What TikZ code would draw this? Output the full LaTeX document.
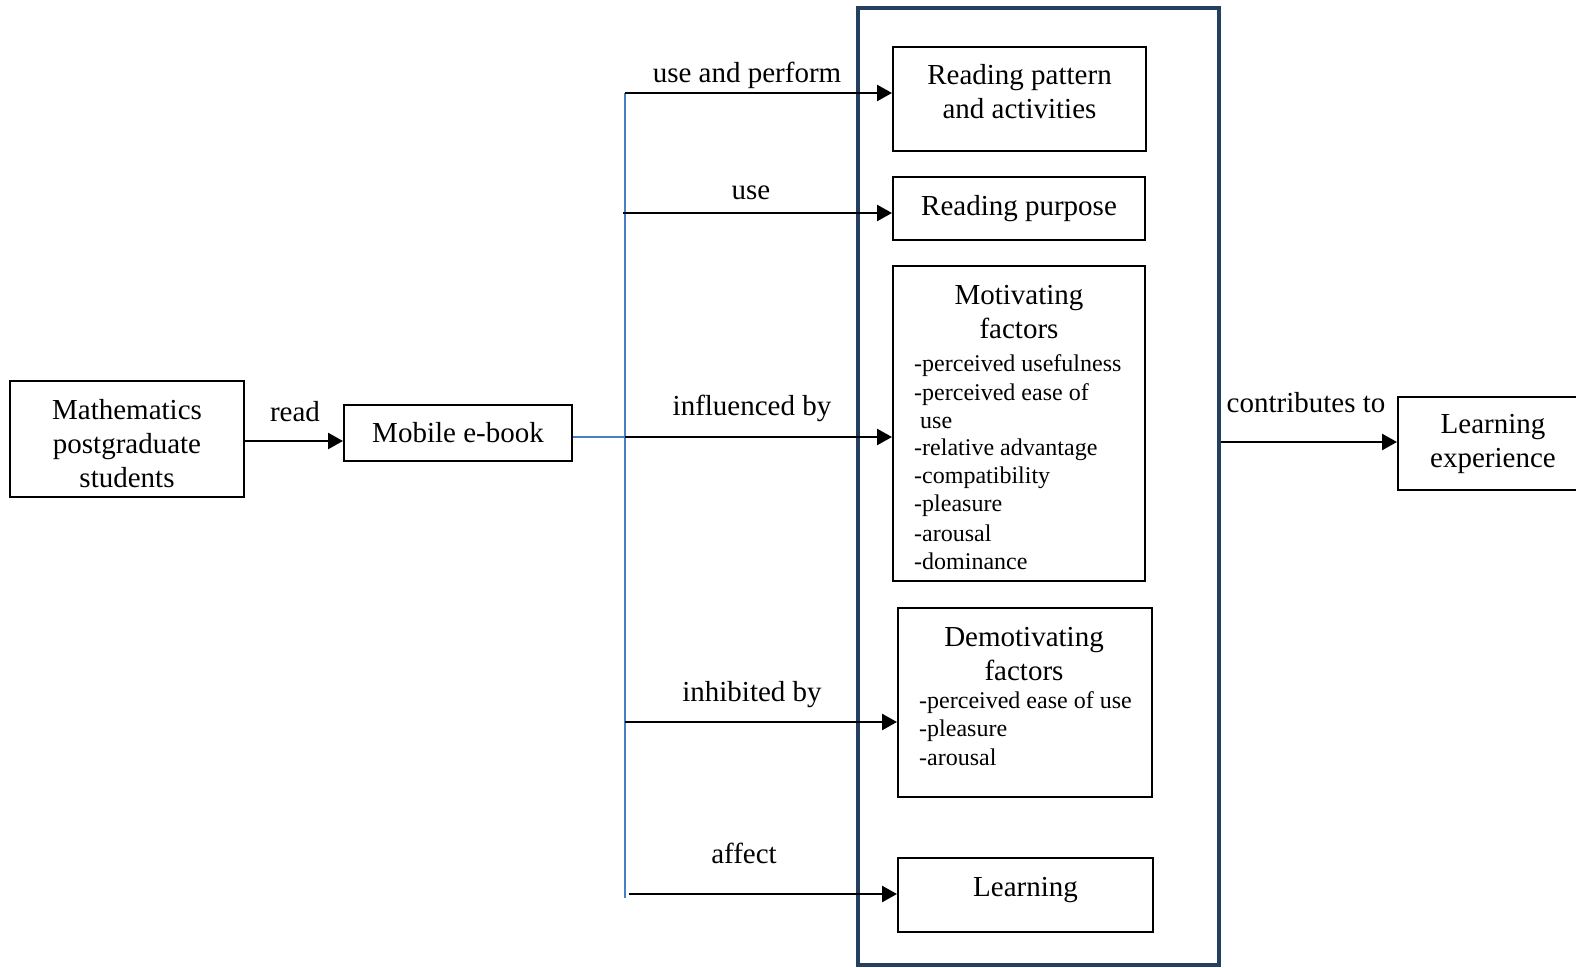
\documentclass[tikz,border=0pt]{standalone}
\usepackage{fontspec}
\setmainfont{Liberation Serif}
\usetikzlibrary{arrows.meta}
\definecolor{navy}{HTML}{243F60}
\definecolor{bline}{HTML}{4A7EC7}
\newcommand\bigf{\fontsize{29}{34}\selectfont}
\newcommand\smf{\fontsize{24}{28}\selectfont}
\begin{document}
\begin{tikzpicture}[x=1pt,y=-1pt,
  box/.style={draw,line width=2pt,inner sep=0,align=center,font=\bigf},
  lbl/.style={inner sep=0,font=\bigf,align=center},
  itm/.style={inner sep=0,anchor=west,font=\smf},
  arr/.style={line width=2.5pt,-{Triangle[length=15pt,width=16pt]}},
  blue line/.style={draw=bline,line width=1.6pt}]
\useasboundingbox (0,0) rectangle (1576,968);
% outer frame
\node[draw=navy,line width=4pt,minimum width=361pt,minimum height=957pt,inner sep=0] (frame) at (1038.5,486.5) {};
% boxes
\node[box,minimum width=234pt,minimum height=116pt] (math) at (127,439) {};
\node[box,minimum width=228pt,minimum height=56pt] (mob) at (458,433) {Mobile e-book};
\node[box,minimum width=253pt,minimum height=104pt] (rp) at (1019.5,99) {};
\node[box,minimum width=252pt,minimum height=63pt] (rpu) at (1019,208.5) {Reading purpose};
\node[box,minimum width=252pt,minimum height=315pt] (mot) at (1019,423.5) {};
\node[box,minimum width=254pt,minimum height=189pt] (dem) at (1025,702.5) {};
\node[box,minimum width=255pt,minimum height=74pt] (lrn) at (1025.5,895) {};
\node[box,minimum width=190pt,minimum height=93pt] (lex) at (1493,443.5) {Learning\\experience};
% texts inside boxes
\node[lbl] (matht) at (127,444) {Mathematics\\postgraduate\\students};
\node[lbl] (rpt) at (1019.5,92) {Reading pattern\\and activities};
\node[lbl] (lrnt) at (1025.5,890) {Learning};
\node[lbl] (mott) at (1019,312) {Motivating\\factors};
\node[lbl] (demt) at (1024,654) {Demotivating\\factors};
\node[itm] (m1) at (914,366) {-perceived usefulness};
\node[itm] (m2) at (914,395) {-perceived ease of};
\node[itm] (m3) at (920,423) {use};
\node[itm] (m4) at (914,450) {-relative advantage};
\node[itm] (m5) at (914,478) {-compatibility};
\node[itm] (m6) at (914,506) {-pleasure};
\node[itm] (m7) at (914,533) {-arousal};
\node[itm] (m8) at (914,561) {-dominance};
\node[itm] (d1) at (919,703) {-perceived ease of use};
\node[itm] (d2) at (919,731) {-pleasure};
\node[itm] (d3) at (919,757) {-arousal};
% blue connector
\coordinate (top) at (625,93);
\coordinate (bot) at (625,898);
\coordinate (j) at (625,437);
\path[blue line] (top) -- (bot);
\path[blue line] (mob.east |- j) -- (j);
% arrow start points
\coordinate (a1) at (625,93);
\coordinate (a2) at (623,213);
\coordinate (a3) at (625,437);
\coordinate (a4) at (625,722);
\coordinate (a5) at (629,894);
\coordinate (r) at (244,441);
\coordinate (c) at (1219,442);
\draw[arr] (a1) -- (rp.west |- a1);
\draw[arr] (a2) -- (rpu.west |- a2);
\draw[arr] (a3) -- (mot.west |- a3);
\draw[arr] (a4) -- (dem.west |- a4);
\draw[arr] (a5) -- (lrn.west |- a5);
\draw[arr] (math.east |- r) -- (mob.west |- r);
\draw[arr] (frame.east |- c) -- (lex.west |- c);
% labels
\node[lbl] (l1) at (747,75) {use and perform};
\node[lbl] (l2) at (751,193) {use};
\node[lbl] (l3) at (752,408) {influenced by};
\node[lbl] (l4) at (752,695) {inhibited by};
\node[lbl] (l5) at (744,853) {affect};
\node[lbl] (l6) at (1306,403) {contributes to};
\node[lbl] (l7) at (295,412) {read};
\end{tikzpicture}
\end{document}
